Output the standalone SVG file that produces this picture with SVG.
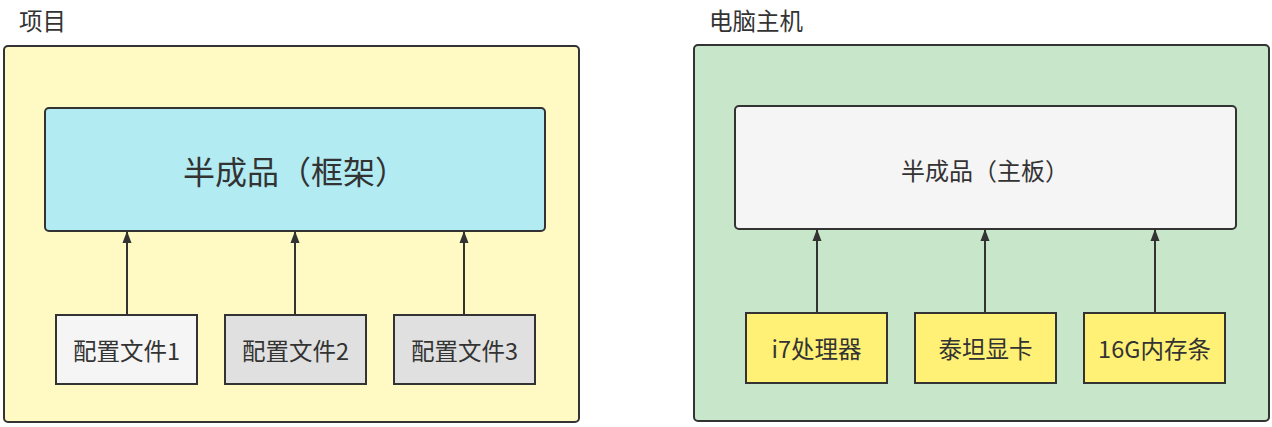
<svg xmlns="http://www.w3.org/2000/svg" width="1272" height="427" viewBox="0 0 1272 427">
<defs>
<style>
text{font-family:"Noto Sans CJK SC","Noto Sans",sans-serif;fill:#333333;}
.c{text-anchor:middle;dominant-baseline:central;}
.box{stroke:#333333;stroke-width:2;}
.lbl{font-size:23.5px;}
.ttl{font-size:23.5px;}
.edge{stroke:#333333;stroke-width:2;fill:none;marker-end:url(#ah);}
</style>
<marker id="ah" markerUnits="userSpaceOnUse" markerWidth="12" markerHeight="10" viewBox="0 0 12 10" refX="11" refY="5" orient="auto">
<path d="M0 0.5 L12 5 L0 9.5 Z" fill="#333333"/>
</marker>
</defs>
<rect width="1272" height="427" fill="#ffffff"/>
<g id="proj">
<rect class="box" x="4" y="46" width="575" height="376" rx="4" fill="#FFF9C4"/>
<text class="ttl" x="19" y="20" dominant-baseline="central">项目</text>
</g>
<g id="pc">
<rect class="box" x="694" y="45" width="575" height="376" rx="4" fill="#C8E6C9"/>
<text class="ttl" x="709" y="20" dominant-baseline="central">电脑主机</text>
</g>
<g id="framework">
<rect class="box" x="45" y="108" width="500" height="123" rx="4" fill="#B2EBF2"/>
<text class="c" x="295" y="170" font-size="32">半成品（框架）</text>
</g>
<g id="cfg1">
<rect class="box" x="56" y="315" width="141" height="69" fill="#F5F5F5"/>
<text class="c lbl" x="126.5" y="350">配置文件1</text>
</g>
<g id="cfg2">
<rect class="box" x="225" y="315" width="141" height="69" fill="#E0E0E0"/>
<text class="c lbl" x="295.5" y="350">配置文件2</text>
</g>
<g id="cfg3">
<rect class="box" x="394" y="315" width="141" height="69" fill="#E0E0E0"/>
<text class="c lbl" x="464.5" y="350">配置文件3</text>
</g>
<g id="board">
<rect class="box" x="735" y="106" width="501" height="123" rx="4" fill="#F5F5F5"/>
<text class="c" x="985" y="169" font-size="24">半成品（主板）</text>
</g>
<g id="cpu">
<rect class="box" x="746" y="313" width="141" height="70" fill="#FFF176"/>
<text class="c lbl" x="816.5" y="348">i7处理器</text>
</g>
<g id="gpu">
<rect class="box" x="915" y="313" width="141" height="70" fill="#FFF176"/>
<text class="c lbl" x="985.5" y="348">泰坦显卡</text>
</g>
<g id="ram">
<rect class="box" x="1084" y="313" width="141" height="70" fill="#FFF176"/>
<text class="c lbl" x="1154.5" y="348">16G内存条</text>
</g>
<g id="connectors">
<path class="edge" d="M127 315 V232"/>
<path class="edge" d="M295 315 V232"/>
<path class="edge" d="M464 315 V232"/>
<path class="edge" d="M817 313 V230"/>
<path class="edge" d="M985 313 V230"/>
<path class="edge" d="M1155 313 V230"/>
</g>
</svg>
